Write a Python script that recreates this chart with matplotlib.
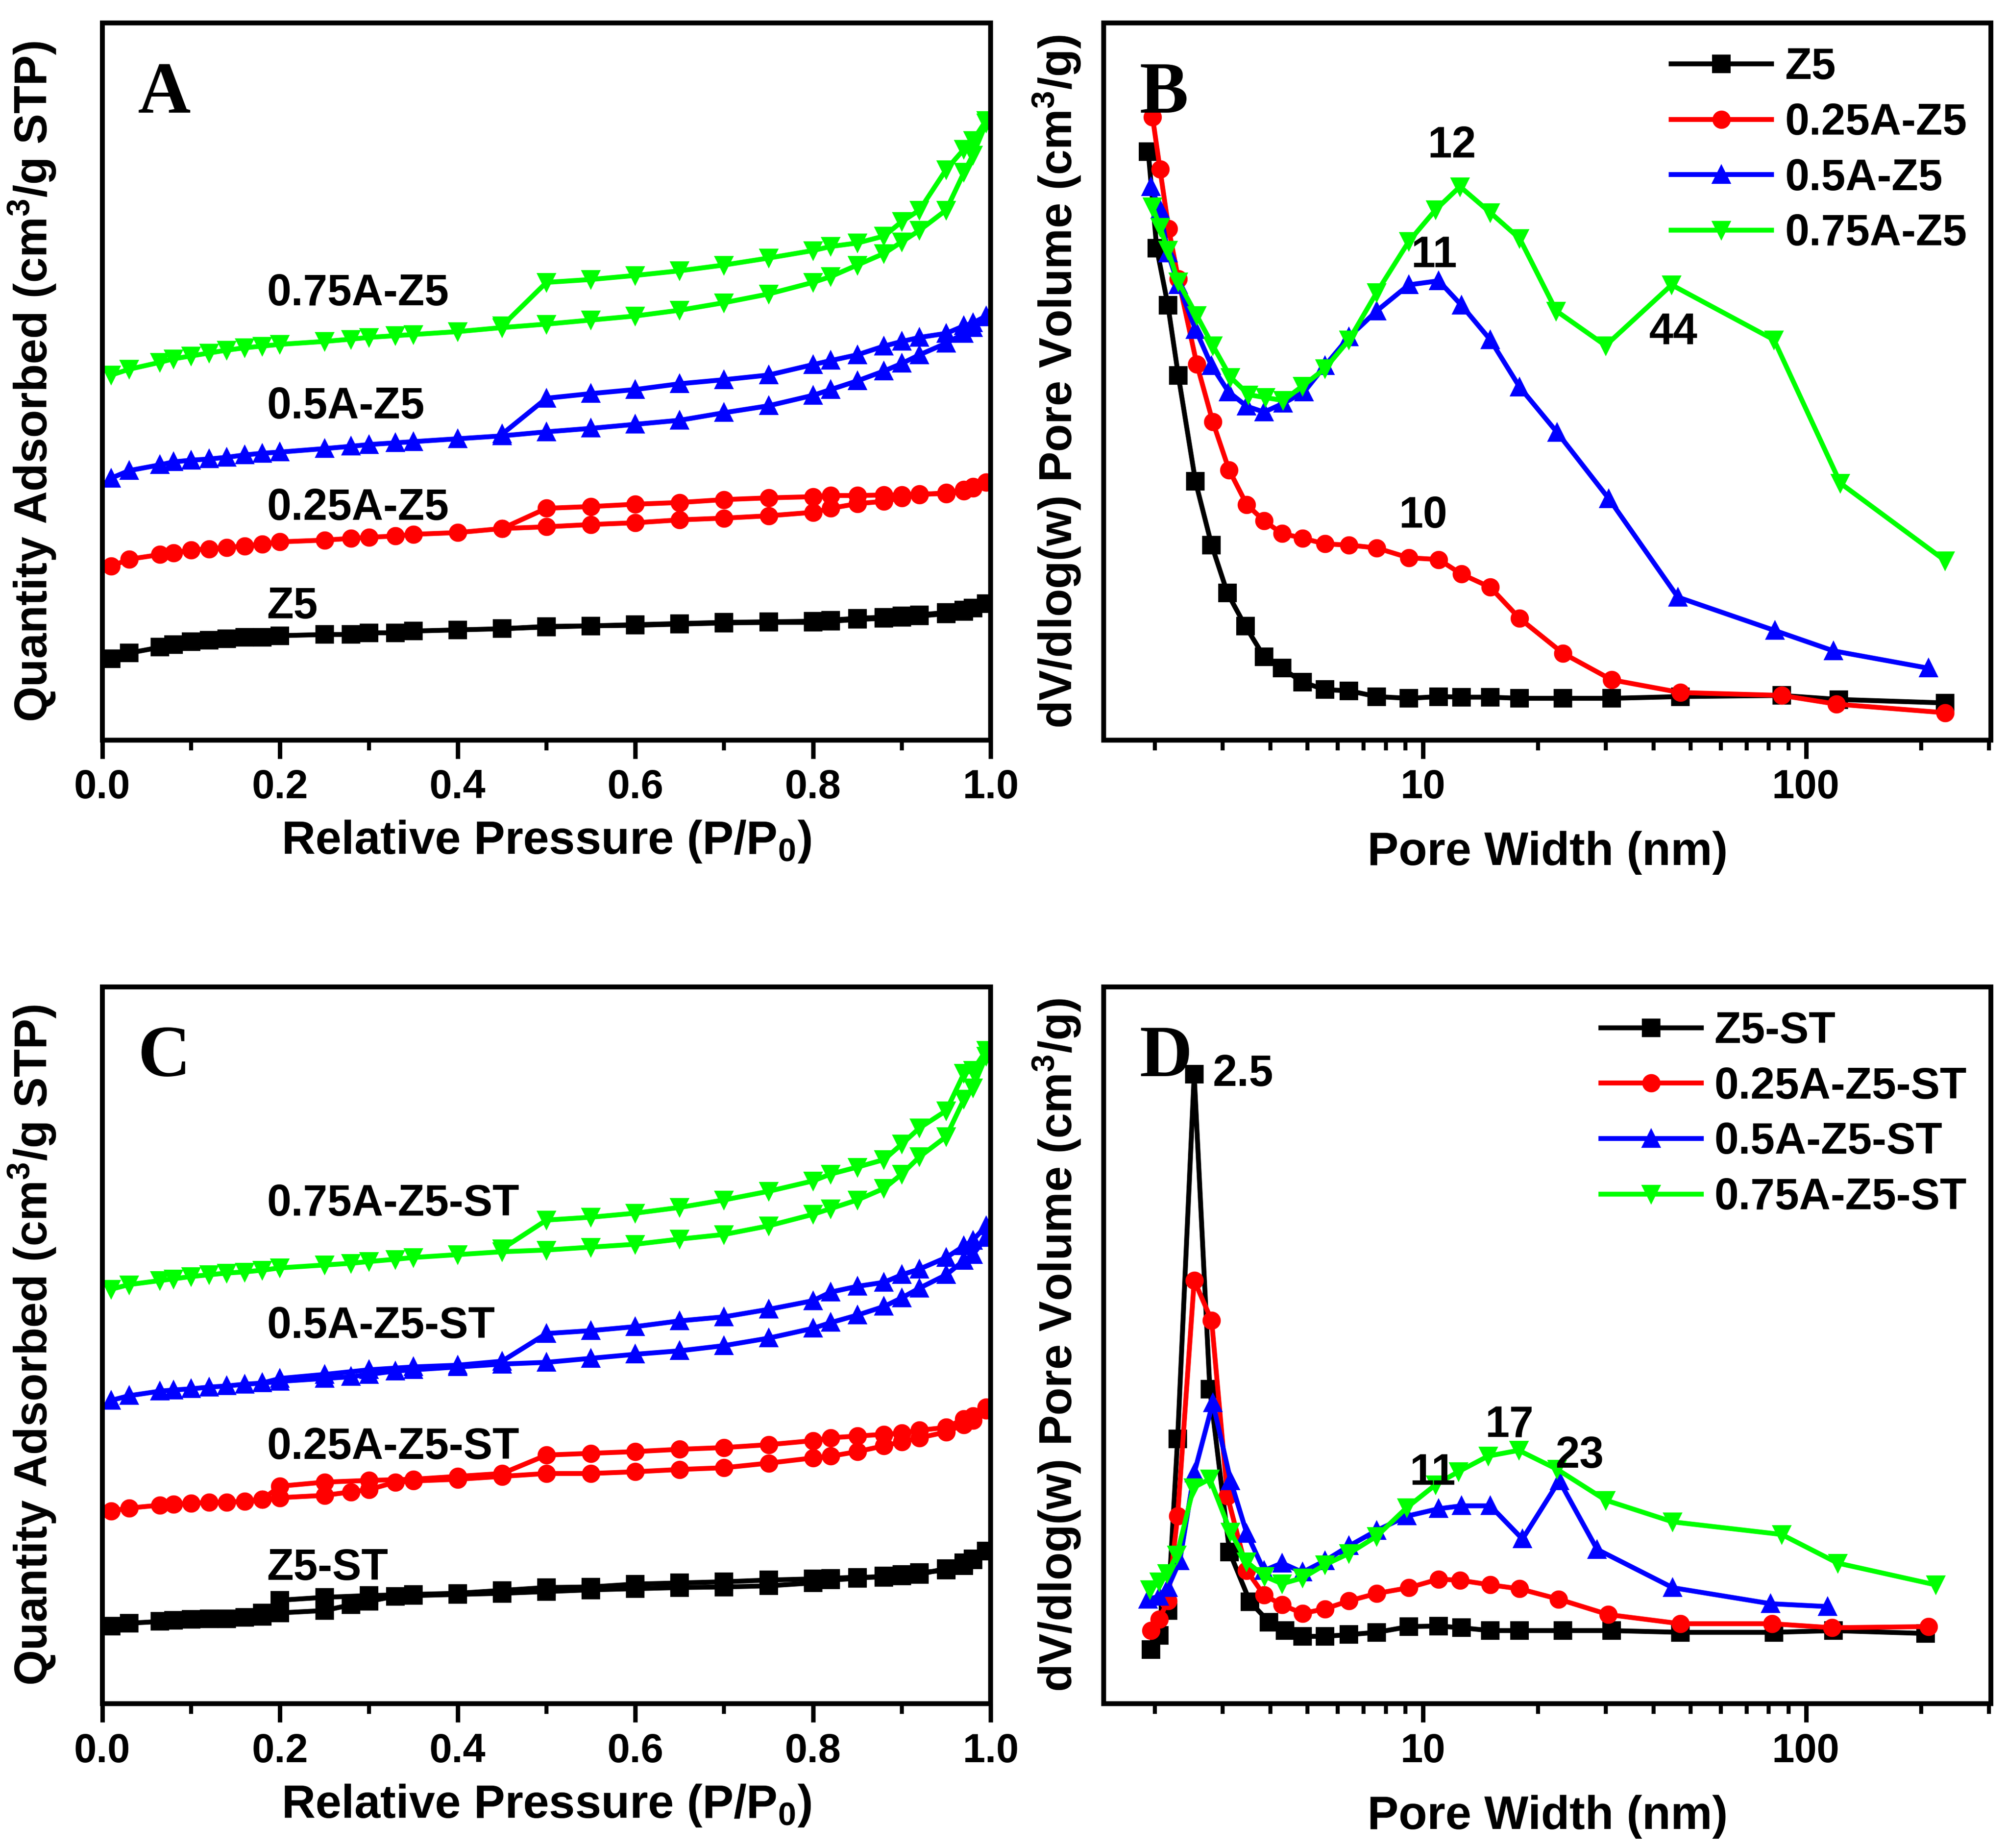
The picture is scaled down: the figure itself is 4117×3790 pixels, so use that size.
import matplotlib
matplotlib.use("Agg")
import matplotlib.pyplot as plt
from matplotlib.ticker import MultipleLocator, NullFormatter, LogLocator

plt.rcParams['font.family'] = ['Liberation Sans', 'DejaVu Sans']
plt.rcParams['font.weight'] = 'bold'
plt.rcParams['mathtext.fontset'] = 'custom'
plt.rcParams['mathtext.rm'] = 'Liberation Sans:bold'
plt.rcParams['mathtext.it'] = 'Liberation Sans:bold'
plt.rcParams['mathtext.bf'] = 'Liberation Sans:bold'
plt.rcParams['mathtext.default'] = 'regular'

# ---------------- data ----------------
# isotherms (A, C): relative pressure, arbitrary y units
p_ads = [0.01, 0.03, 0.065, 0.08, 0.1, 0.12, 0.14, 0.16, 0.18, 0.2, 0.25, 0.28, 0.3, 0.33,
         0.35, 0.4, 0.45, 0.5, 0.55, 0.6, 0.65, 0.7, 0.75, 0.8, 0.82, 0.85, 0.88, 0.9,
         0.92, 0.95, 0.97, 0.98, 0.995]
p_des = [0.995, 0.98, 0.97, 0.95, 0.92, 0.9, 0.88, 0.85, 0.82, 0.8, 0.75, 0.7, 0.65,
         0.6, 0.55, 0.5, 0.45]
p_des_long = p_des + [0.4, 0.35, 0.3, 0.25, 0.2, 0.18]

names_a = ["Z5", "0.25A-Z5", "0.5A-Z5", "0.75A-Z5"]
ads_a = [
    [140, 150, 160, 165, 170, 172, 175, 177, 177, 180, 182, 182, 185, 185, 188, 190, 192,
     195, 197, 198, 200, 202, 203, 203, 205, 208, 210, 212, 214, 218, 222, 228, 235],
    [300, 312, 320, 323, 328, 330, 332, 335, 338, 342, 345, 348, 350, 352, 355, 358, 365,
     368, 372, 375, 380, 383, 387, 393, 400, 408, 412, 418, 423, 427, 432, 437, 445],
    [452, 465, 475, 480, 483, 485, 488, 492, 495, 497, 503, 507, 510, 513, 515, 520, 525,
     532, 538, 545, 552, 565, 577, 595, 605, 620, 637, 650, 665, 685, 702, 712, 730],
    [630, 640, 652, 658, 663, 668, 673, 677, 680, 683, 688, 692, 695, 698, 700, 705, 712,
     718, 725, 732, 742, 755, 770, 790, 800, 820, 840, 860, 880, 915, 980, 1010, 1065],
]
des_a = [
    [235, 228, 224, 220, 216, 214, 212, 210, 207, 205, 204, 203, 201, 199, 197, 196, 192],
    [445, 435, 430, 425, 425, 423, 423, 422, 422, 420, 418, 415, 410, 407, 403, 400, 365],
    [732, 720, 715, 702, 695, 688, 680, 665, 655, 648, 630, 622, 615, 605, 598, 590, 528],
    [1070, 1035, 1020, 985, 915, 895, 870, 858, 852, 845, 832, 820, 810, 802, 795, 790, 715],
]

names_c = ["Z5-ST", "0.25A-Z5-ST", "0.5A-Z5-ST", "0.75A-Z5-ST"]
ads_c = [
    [135, 140, 143, 145, 147, 148, 148, 150, 152, 158, 162, 172, 178, 187, 188, 190, 192,
     195, 198, 200, 202, 203, 205, 210, 215, 218, 222, 225, 228, 232, 240, 250, 265],
    [335, 340, 345, 347, 348, 350, 350, 352, 355, 358, 362, 368, 372, 385, 387, 390, 395,
     400, 400, 403, 407, 410, 418, 427, 430, 438, 448, 455, 462, 472, 485, 492, 510],
    [527, 535, 543, 545, 547, 550, 552, 555, 557, 560, 565, 568, 572, 578, 580, 585, 590,
     593, 600, 607, 613, 622, 635, 652, 662, 675, 690, 705, 722, 745, 770, 780, 810],
    [720, 728, 735, 738, 742, 745, 748, 750, 753, 757, 762, 765, 768, 772, 775, 780, 785,
     788, 793, 798, 807, 815, 830, 850, 860, 875, 895, 920, 950, 985, 1050, 1070, 1125],
]
des_c = [
    [265, 252, 245, 235, 225, 222, 220, 220, 218, 217, 215, 212, 210, 208, 203, 202, 197,
     192, 190, 188, 185, 180, 158],
    [515, 500, 495, 480, 475, 470, 468, 465, 462, 457, 450, 445, 442, 438, 435, 432, 400,
     395, 390, 388, 385, 378, 355],
    [830, 805, 795, 775, 755, 745, 732, 725, 715, 700, 685, 672, 665, 655, 648, 643, 595,
     588, 585, 580, 572, 565, 557],
    [1135, 1100, 1095, 1030, 1000, 972, 945, 932, 920, 908, 890, 875, 862, 852, 845, 840, 790],
]
label_y_a = [230, 400, 575, 770]
label_y_c = [235, 445, 655, 868]

# pore size distributions (B, D)
w_b = [
    [1.92, 2.02, 2.16, 2.30, 2.55, 2.81, 3.09, 3.44, 3.85, 4.29, 4.85, 5.55, 6.42, 7.58,
     9.19, 11.0, 12.6, 15.0, 17.9, 23.2, 31.1, 47.0, 86.4, 122, 231],
    [1.97, 2.06, 2.17, 2.30, 2.57, 2.83, 3.12, 3.47, 3.85, 4.29, 4.85, 5.55, 6.42, 7.58,
     9.19, 11.0, 12.6, 15.0, 17.9, 23.2, 31.1, 47.0, 86.4, 120, 231],
    [1.95, 2.06, 2.16, 2.30, 2.55, 2.81, 3.11, 3.47, 3.85, 4.32, 4.90, 5.55, 6.42, 7.58,
     9.19, 11.0, 12.6, 15.0, 17.9, 22.4, 30.6, 46.3, 83.1, 118, 209],
    [1.97, 2.06, 2.16, 2.30, 2.57, 2.83, 3.15, 3.51, 3.89, 4.32, 4.85, 5.55, 6.42, 7.58,
     9.19, 10.8, 12.5, 15.0, 17.9, 22.3, 30.0, 44.6, 82.5, 123, 231],
]
v_b = [
    [1017, 850, 752, 630, 447, 337, 254, 197, 144, 124, 100, 87, 85, 75, 72, 75, 74, 74,
     72, 72, 72, 75, 77, 70, 64],
    [1077, 987, 884, 797, 650, 550, 467, 407, 379, 357, 349, 339, 337, 332, 315, 312, 287,
     264, 210, 150, 104, 82, 77, 62, 47],
    [957, 917, 842, 787, 710, 647, 602, 577, 567, 582, 602, 647, 697, 742, 787, 794, 752,
     692, 610, 532, 417, 247, 189, 154, 124],
    [922, 887, 847, 792, 734, 682, 627, 597, 592, 587, 612, 642, 692, 774, 862, 917, 957,
     912, 867, 742, 682, 787, 692, 444, 310],
]
w_d = [
    [1.95, 2.05, 2.16, 2.29, 2.53, 2.78, 3.13, 3.54, 3.97, 4.37, 4.85, 5.55, 6.42, 7.58,
     9.19, 11.0, 12.6, 15.0, 17.9, 23.2, 31.1, 47.0, 82.5, 118, 205],
    [1.95, 2.05, 2.16, 2.29, 2.53, 2.81, 3.09, 3.47, 3.85, 4.29, 4.85, 5.55, 6.42, 7.58,
     9.19, 11.0, 12.5, 15.0, 17.9, 22.6, 30.5, 47.0, 81.6, 117, 209],
    [1.92, 2.05, 2.16, 2.32, 2.53, 2.83, 3.15, 3.47, 3.85, 4.29, 4.85, 5.55, 6.42, 7.58,
     9.08, 11.0, 12.6, 15.0, 18.2, 22.7, 28.5, 44.9, 80.9, 114],
    [1.94, 2.05, 2.15, 2.28, 2.52, 2.78, 3.15, 3.47, 3.86, 4.29, 4.85, 5.55, 6.42, 7.58,
     9.08, 10.8, 12.4, 14.8, 17.8, 22.4, 30.0, 44.9, 86.4, 121, 218],
]
v_d = [
    [95, 120, 163, 463, 1100, 550, 265, 178, 143, 128, 118, 118, 121, 125, 135, 136, 133,
     128, 128, 128, 128, 125, 125, 128, 123],
    [128, 148, 180, 328, 740, 670, 363, 233, 190, 173, 158, 166, 180, 193, 203, 218, 216,
     208, 201, 183, 156, 140, 140, 133, 135],
    [183, 188, 203, 250, 403, 526, 390, 298, 233, 246, 230, 250, 276, 303, 328, 341, 346,
     346, 288, 390, 270, 203, 175, 170],
    [200, 213, 228, 260, 378, 393, 300, 248, 223, 210, 220, 243, 263, 293, 343, 383, 406,
     433, 443, 410, 356, 318, 296, 246, 208],
]

peaks_b = [("12", 11.9, 1027), ("11", 10.7, 837), ("44", 45, 704), ("10", 10.0, 387)]
peaks_d = [("2.5", 3.4, 1100), ("17", 16.8, 486), ("23", 25.7, 433), ("11", 10.6, 403)]

colors = ["black", "#ff0000", "#0000ff", "#00ff00"]
markers = ["s", "o", "^", "v"]

# ---------------- figure ----------------
fig = plt.figure(figsize=(4117 / 300, 3790 / 300), dpi=300)
axA = fig.add_axes([0.051, 0.5996, 0.4426, 0.388])
axB = fig.add_axes([0.550, 0.5996, 0.442, 0.388])
axC = fig.add_axes([0.051, 0.078, 0.4426, 0.388])
axD = fig.add_axes([0.550, 0.078, 0.442, 0.388])

LW = 2.4
MS = 8
TICK_FS = 20
XLAB_FS = 23
YLAB_FS = 22.5
TXT_FS = 21.5


def style(ax):
    for s in ax.spines.values():
        s.set_linewidth(2.4)
    ax.set_yticks([])
    ax.tick_params(axis='x', which='major', direction='out', length=9, width=2.2,
                   labelsize=TICK_FS, pad=5)
    ax.tick_params(axis='x', which='minor', direction='out', length=5, width=2.0)
    ax.tick_params(top=False, right=False)
    for lab in ax.get_xticklabels():
        lab.set_fontweight('bold')


def iso_panel(ax, ads, des, pdes, names, label_y, letter, ymax):
    for i in range(4):
        ax.plot(p_ads, ads[i], color=colors[i], marker=markers[i], ms=MS, lw=LW)
        ax.plot(pdes[i], des[i], color=colors[i], marker=markers[i], ms=MS, lw=LW)
        ax.text(0.185, label_y[i], names[i], fontsize=TXT_FS, fontweight='bold',
                ha='left', va='center')
    ax.set_xlim(0, 1.0)
    ax.set_ylim(0, ymax)
    ax.xaxis.set_minor_locator(MultipleLocator(0.1))
    ax.set_xticks([0, 0.2, 0.4, 0.6, 0.8, 1.0], ["0.0", "0.2", "0.4", "0.6", "0.8", "1.0"])
    ax.set_xlabel("Relative Pressure (P/P$_0$)", fontsize=XLAB_FS, fontweight='bold', labelpad=6)
    ax.set_ylabel("Quantity Adsorbed (cm$^3$/g STP)", fontsize=YLAB_FS, fontweight='bold')
    ax.yaxis.set_label_coords(-0.05, 0.5)
    ax.text(0.04, 0.9, letter, transform=ax.transAxes, fontsize=36, fontweight='bold',
            family='Liberation Serif', va='center', ha='left')
    style(ax)


def psd_panel(ax, ws, vs, names, peaks, letter, ymax):
    for i in range(4):
        ax.plot(ws[i], vs[i], color=colors[i], marker=markers[i], ms=MS, lw=LW, label=names[i])
    for t, x, y in peaks:
        ax.text(x, y, t, fontsize=TXT_FS, fontweight='bold', ha='center', va='center')
    ax.set_xscale('log')
    ax.set_xlim(1.47, 304)
    ax.set_ylim(0, ymax)
    ax.xaxis.set_minor_locator(LogLocator(base=10, subs=range(2, 10), numticks=20))
    ax.xaxis.set_minor_formatter(NullFormatter())
    ax.set_xticks([10, 100], ["10", "100"])
    ax.set_xlabel("Pore Width (nm)", fontsize=XLAB_FS, fontweight='bold', labelpad=12)
    ax.set_ylabel("dV/dlog(w) Pore Volume (cm$^3$/g)", fontsize=YLAB_FS, fontweight='bold')
    ax.yaxis.set_label_coords(-0.024, 0.5)
    ax.text(0.04, 0.9, letter, transform=ax.transAxes, fontsize=36, fontweight='bold',
            family='Liberation Serif', va='center', ha='left')
    leg = ax.legend(loc='upper right', bbox_to_anchor=(1.0, 1.0), frameon=False,
                    fontsize=TXT_FS, handlelength=2.3, handletextpad=0.3, labelspacing=0.32,
                    borderaxespad=0.15)
    for t in leg.get_texts():
        t.set_fontweight('bold')
    style(ax)


iso_panel(axA, ads_a, des_a, [p_des] * 4, names_a, label_y_a, "A", 1238)
iso_panel(axC, ads_c, des_c, [p_des_long, p_des_long, p_des_long, p_des], names_c,
          label_y_c, "C", 1245)
psd_panel(axB, w_b, v_b, names_a, peaks_b, "B", 1240)
psd_panel(axD, w_d, v_d, names_c, peaks_d, "D", 1253)

fig.savefig("out.png", dpi=300)
